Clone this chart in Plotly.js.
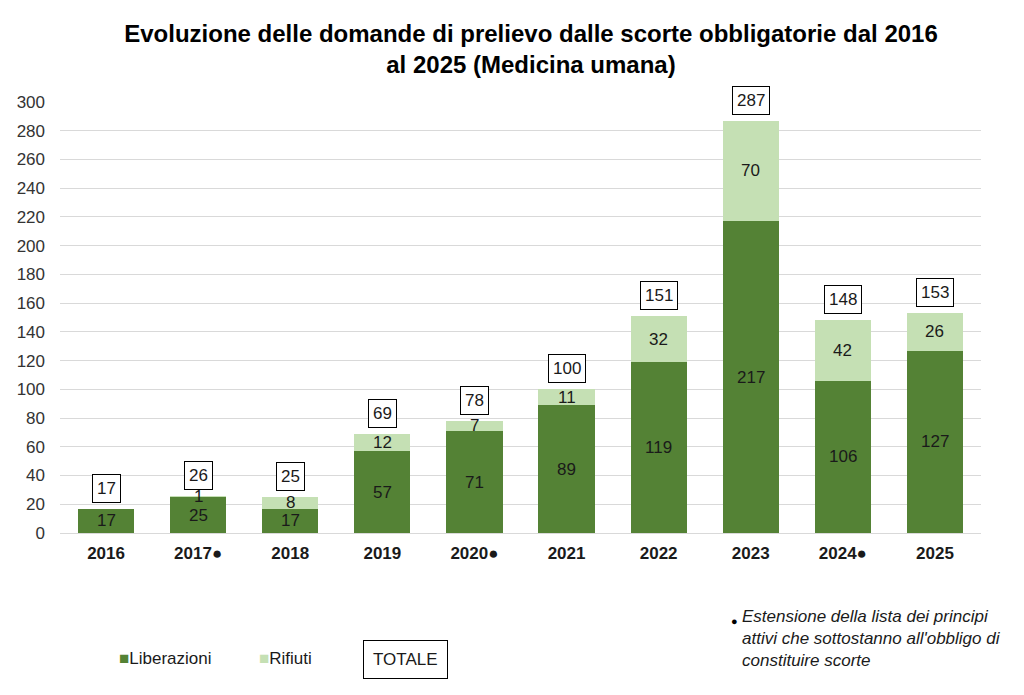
<!DOCTYPE html>
<html>
<head>
<meta charset="utf-8">
<script src="https://cdn.plot.ly/plotly-3.0.1.min.js"></script>
<style>html,body{margin:0;padding:0;background:#fff;}#chart{width:1024px;height:695px;}</style>
</head>
<body>
<div id="chart"></div>
<script>
var categories = ["2016", "2017\u25CF", "2018", "2019", "2020\u25CF", "2021", "2022", "2023", "2024\u25CF", "2025"];
var liberazioni = [17, 25, 17, 57, 71, 89, 119, 217, 106, 127];
var rifiuti = [0, 1, 8, 12, 7, 11, 32, 70, 42, 26];
var totale = [17, 26, 25, 69, 78, 100, 151, 287, 148, 153];
var yTicks = [0, 20, 40, 60, 80, 100, 120, 140, 160, 180, 200, 220, 240, 260, 280, 300];

var FONT = "Arial, 'Liberation Sans', sans-serif";
var darkGreen = "#548235";
var lightGreen = "#C5E0B4";

var traces = [
  {type: "bar", name: "Liberazioni", x: categories, y: liberazioni,
   marker: {color: darkGreen}, hoverinfo: "none"},
  {type: "bar", name: "Rifiuti", x: categories, y: rifiuti,
   marker: {color: lightGreen}, hoverinfo: "none"}
];

var annotations = [];
categories.forEach(function (c, i) {
  annotations.push({x: i, y: liberazioni[i] / 2, xref: "x", yref: "y", text: String(liberazioni[i]),
    showarrow: false, font: {family: FONT, size: 17, color: "#1a1a1a"}});
  if (rifiuti[i] > 0) {
    annotations.push({x: i, y: liberazioni[i] + rifiuti[i] / 2, xref: "x", yref: "y", text: String(rifiuti[i]),
      showarrow: false, font: {family: FONT, size: 17, color: "#1a1a1a"}});
  }
  annotations.push({x: i, y: totale[i], xref: "x", yref: "y", text: String(totale[i]),
    showarrow: false, yanchor: "bottom", yshift: 6, bordercolor: "#000", borderwidth: 1, borderpad: 4,
    bgcolor: "#fff", font: {family: FONT, size: 17, color: "#1a1a1a"}});
});

function py(pix) { return (533 - pix) / 431; }
function px(pix) { return (pix - 60) / 921; }

annotations.push({xref: "paper", yref: "paper", x: px(117), y: py(658),
  text: "<span style='color:" + darkGreen + "'>\u25A0</span>Liberazioni", showarrow: false,
  xanchor: "left", yanchor: "middle", font: {family: FONT, size: 17, color: "#1a1a1a"}});
annotations.push({xref: "paper", yref: "paper", x: px(257), y: py(658),
  text: "<span style='color:" + lightGreen + "'>\u25A0</span>Rifiuti", showarrow: false,
  xanchor: "left", yanchor: "middle", font: {family: FONT, size: 17, color: "#1a1a1a"}});
annotations.push({xref: "paper", yref: "paper", x: px(405), y: py(659),
  text: "TOTALE", showarrow: false, xanchor: "center", yanchor: "middle",
  bordercolor: "#000", borderwidth: 1, borderpad: 9, font: {family: FONT, size: 17, color: "#1a1a1a"}});
annotations.push({xref: "paper", yref: "paper", x: px(740), y: py(605),
  text: "<i>Estensione della lista dei principi<br>attivi che sottostanno all'obbligo di<br>constituire scorte</i>",
  showarrow: false, xanchor: "left", yanchor: "top", align: "left",
  font: {family: FONT, size: 17, color: "#1a1a1a"}});
annotations.push({xref: "paper", yref: "paper", x: px(734), y: py(621),
  text: "\u25CF", showarrow: false, xanchor: "center", yanchor: "middle",
  font: {family: FONT, size: 11, color: "#000"}});

var layout = {
  width: 1024, height: 695,
  margin: {l: 60, r: 43, t: 102, b: 162},
  paper_bgcolor: "#fff", plot_bgcolor: "#fff",
  barmode: "stack", bargap: 0.39,
  font: {family: FONT, color: "#1a1a1a"},
  title: {text: "<b>Evoluzione delle domande di prelievo dalle scorte obbligatorie dal 2016<br>al 2025 (Medicina umana)</b>",
    x: 531 / 1024, xanchor: "center", y: 1 - 42 / 695, yanchor: "top",
    font: {family: FONT, size: 24, color: "#000"}},
  xaxis: {type: "category", range: [-0.5, 9.5], showgrid: false, zeroline: false,
    showline: true, linecolor: "#d9d9d9", linewidth: 1, ticks: "", ticklabelstandoff: 5,
    tickfont: {family: FONT, size: 17, color: "#1a1a1a", weight: "bold"}},
  yaxis: {range: [0, 300], tickvals: yTicks, ticktext: yTicks.map(String),
    showgrid: true, gridcolor: "#d9d9d9", gridwidth: 1, zeroline: false, showline: false,
    ticks: "", ticklabelstandoff: 14, tickfont: {family: FONT, size: 17, color: "#333"}},
  showlegend: false,
  annotations: annotations
};

Plotly.newPlot("chart", traces, layout, {staticPlot: true, displayModeBar: false});
</script>
</body>
</html>
